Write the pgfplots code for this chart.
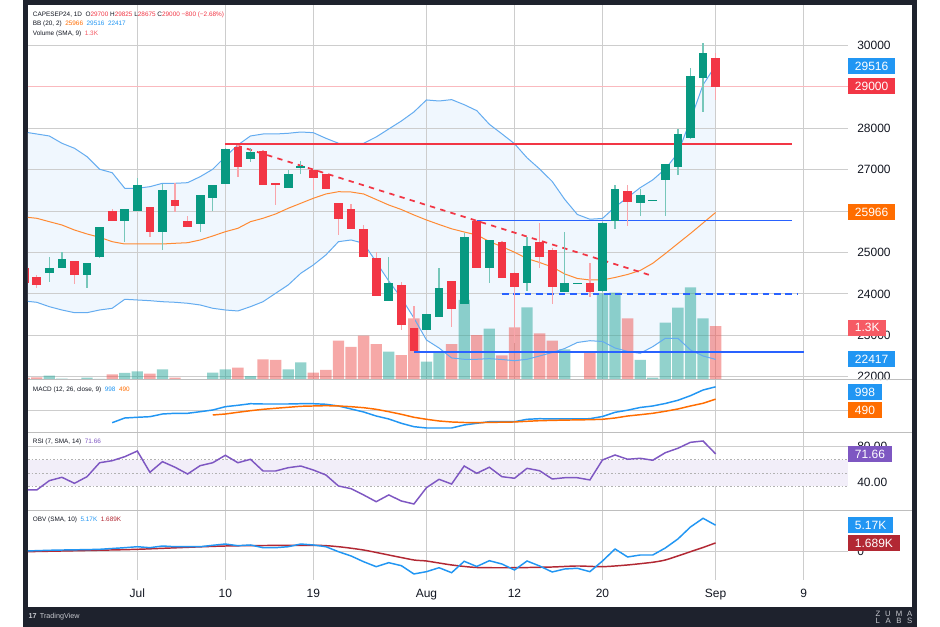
\documentclass[border=0pt]{standalone}
\usepackage{pgfplots}
\pgfplotsset{compat=1.18}
\usepackage{pgfplotstable}
\usepackage{fontspec}
\setmainfont{Liberation Sans}

\definecolor{upc}{RGB}{8,153,129}
\definecolor{dnc}{RGB}{242,54,69}
\definecolor{bbblue}{RGB}{33,150,243}
\definecolor{bbline}{RGB}{100,172,240}
\definecolor{tvblue}{RGB}{41,98,255}
\definecolor{tvorange}{RGB}{255,109,0}
\definecolor{rsipurple}{RGB}{126,87,194}
\definecolor{rsifill}{RGB}{242,238,249}
\definecolor{obvred}{RGB}{178,40,51}
\definecolor{gridc}{RGB}{205,205,205}
\definecolor{sepc}{RGB}{190,190,190}
\definecolor{framec}{RGB}{30,34,45}
\definecolor{bbfill}{RGB}{240,247,254}
\definecolor{volup}{RGB}{38,166,154}
\definecolor{voldn}{RGB}{239,83,80}
\definecolor{vollab}{RGB}{246,90,100}
\definecolor{txt}{RGB}{19,23,34}
\definecolor{logoc}{RGB}{200,202,208}

% candles: i open high low close
\pgfplotstableread{
i o h l c
-7 24498 24884 24295 24633
-6 24633 25020 24633 24836
-4 24450 24754 24135 24754
-3 24884 25620 24870 25608
-1 25761 26060 25261 26050
0 26002 26792 26002 26630
2 25502 26655 25060 26510
5 25681 26381 25502 26381
6 26308 26640 26002 26630
7 26647 27520 26647 27500
9 27258 27517 27193 27427
12 26551 26993 26551 26889
13 27034 27210 26889 27089
20 23836 24884 23836 24256
23 23128 23520 23128 23507
24 23450 24618 23450 24135
26 23756 25463 23756 25382
28 24618 25310 24256 25302
31 24256 25382 24078 25157
34 24039 25487 24039 24256
35 24245 24270 24245 24270
37 24078 25740 24050 25720
38 25769 26630 25558 26526
40 26203 26542 25882 26381
41 26250 26275 26250 26275
42 26751 27140 25890 27130
43 27058 27976 26872 27855
44 27758 29449 27740 29263
45 29208 30068 28386 29812
}\cUp

\pgfplotstableread{
i o h l c
-9 24618 24700 24250 24269
-8 24416 24456 24135 24215
-5 24802 24802 24232 24450
-2 26002 26050 25761 25761
1 26107 26107 25382 25502
3 26260 26671 25986 26123
4 25761 25882 25624 25624
8 27556 27597 26831 27058
10 27459 27470 26638 26638
11 26687 26687 26147 26638
14 26993 26993 26510 26807
15 26889 26889 26526 26526
16 26203 26203 25423 25801
17 26050 26171 25558 25558
18 25558 25664 24884 24884
19 24860 25020 23949 23949
21 24208 24295 23128 23249
22 23184 23708 22628 22628
25 24312 24312 23208 23628
27 25769 25790 24618 24618
29 25261 25280 24376 24376
30 24513 24520 22806 24159
32 25246 25705 24618 24900
33 25060 25100 23756 24159
36 24256 24755 23933 24039
39 26494 26630 25640 26228
46 29700 29825 28675 29000
}\cDn

% volume in K
\pgfplotstableread{
i v
-7 0.104
-6 0.03
-4 0.055
-3 0.024
-1 0.169
0 0.209
2 0.257
5 0.016
6 0.177
7 0.257
9 0.096
12 0.257
13 0.426
20 0.682
23 0.441
24 0.658
26 1.928
28 1.236
31 1.751
34 0.739
35 0.012
37 2.089
38 2.104
40 0.482
41 0.056
42 1.381
43 1.742
44 2.234
45 1.486
}\volUp

\pgfplotstableread{
i v
-9 0.05
-8 0.065
-5 0.017
-2 0.137
1 0.152
3 0.056
4 0.016
8 0.297
10 0.498
11 0.482
14 0.177
15 0.241
16 0.947
17 0.795
18 1.068
19 0.867
21 0.602
22 1.486
25 0.867
27 1.084
29 0.594
30 1.27
32 1.125
33 0.948
36 0.682
39 1.486
46 1.3
}\volDn

% Bollinger bands (20,2)
\pgfplotstableread{
i up mid lo
-9 27910 25857 23828
-8 27862 25826 23797
-7 27814 25744 23691
-6 27638 25664 23611
-5 27517 25543 23546
-4 27314 25447 23546
-3 27010 25367 23611
-2 26927 25261 23652
-1 26551 25205 23869
0 26551 25205 23853
1 26589 25205 23836
2 26671 25205 23811
3 26671 25222 23797
4 26686 25236 23773
5 26831 25302 23732
6 27010 25398 23652
7 27314 25502 23611
8 27597 25584 23587
9 27814 25744 23691
10 27862 25826 23811
11 27862 25930 24014
12 27879 26067 24215
13 27910 26188 24497
14 27894 26309 24698
15 27758 26413 24940
16 27638 26468 25261
17 27638 26461 25302
18 27638 26413 25222
19 27790 26280 24770
20 27983 26147 24311
21 28175 26038 23901
22 28394 25906 23418
23 28684 25785 22886
24 28659 25676 22693
25 28692 25572 22452
26 28570 25495 22420
27 28426 25423 22420
28 28097 25266 22435
29 27865 25140 22415
30 27628 25007 22386
31 27286 24853 22420
32 27016 24758 22500
33 26716 24650 22584
34 26281 24481 22681
35 25918 24372 22826
36 25803 24336 22869
37 25822 24336 22850
38 26099 24396 22693
39 26329 24469 22609
40 26565 24565 22565
41 26753 24739 22725
42 27019 24973 22927
43 27400 25217 22927
44 28200 25459 22645
45 29050 25712 22500
46 29516 25966 22417
}\bb

\pgfplotstableread{
i m
-2 -483
-1 -289
0 -260
1 -235
2 -124
3 -95
4 -95
5 -29
6 41
7 178
8 235
9 301
10 289
11 289
12 289
13 301
14 301
15 277
16 207
17 83
18 -41
19 -207
20 -330
21 -508
22 -648
23 -702
24 -702
25 -702
26 -578
27 -508
28 -442
29 -442
30 -442
31 -343
32 -318
33 -330
34 -330
35 -330
36 -318
37 -227
38 -54
39 33
40 145
41 207
42 310
43 442
44 632
45 867
46 998
}\macd

\pgfplotstableread{
i s
6 -165
7 -124
8 -54
9 12
10 70
11 112
12 153
13 194
14 207
15 219
16 207
17 178
18 136
19 70
20 -29
21 -136
22 -260
23 -343
24 -413
25 -454
26 -475
27 -483
28 -471
29 -463
30 -454
31 -425
32 -401
33 -388
34 -376
35 -368
36 -359
37 -343
38 -289
39 -207
40 -153
41 -95
42 -12
43 83
44 207
45 318
46 490
}\macdsig

\pgfplotstableread{
i r
-9 31.0
-8 31.0
-7 41.5
-6 45.3
-5 38.5
-4 46.0
-3 61.7
-2 64.0
-1 68.5
0 74.9
1 50.9
2 62.9
3 56.6
4 49.0
5 58.4
6 61.7
7 70.1
8 61.7
9 65.6
10 52.4
11 52.4
12 56.1
13 58.0
14 53.5
15 47.9
16 35.5
17 32.5
18 25.4
19 17.8
20 25.4
21 18.6
22 15.2
23 33.6
24 43.0
25 37.7
26 58.0
27 49.8
28 56.6
29 46.0
30 44.2
31 55.4
32 52.7
33 43.4
34 44.8
35 44.8
36 42.3
37 64.8
38 70.4
39 65.6
40 66.7
41 64.5
42 73.0
43 78.0
44 84.7
45 86.2
46 71.66
}\rsi

\pgfplotstableread{
i o
-9 0.10
-8 0.16
-7 0.24
-6 0.29
-5 0.33
-4 0.37
-3 0.43
-2 0.59
-1 0.75
0 0.94
1 0.75
2 1.08
3 0.94
4 0.94
5 0.94
6 1.22
7 1.47
8 1.14
9 1.28
10 0.75
11 0.75
12 0.94
13 1.47
14 1.28
15 0.94
16 -0.04
17 -0.88
18 -2.01
19 -2.99
20 -2.20
21 -2.79
22 -4.42
23 -3.97
24 -3.19
25 -4.17
26 -1.93
27 -2.95
28 -1.81
29 -2.46
30 -3.64
31 -1.87
32 -2.85
33 -4.03
34 -3.44
35 -3.30
36 -3.97
37 -1.87
38 0.49
39 -1.08
40 -0.69
41 -0.69
42 0.69
43 2.46
44 4.82
45 6.53
46 5.17
}\obv

\pgfplotstableread{
i s
-9 -0.04
-8 0.0
-4 0.20
0 0.43
7 1.08
14 1.22
16 0.94
18 0.29
20 -0.69
22 -1.67
23 -1.87
25 -2.65
27 -3.15
30 -3.19
33 -3.05
35 -2.85
37 -2.99
39 -2.65
41 -2.12
42 -1.67
43 -0.88
44 -0.04
45 0.79
46 1.689
}\obvsma

\pgfplotsset{
  pane/.style={
    scale only axis, anchor=south west, width=615pt,
    xmin=-8.696, xmax=56.53,
    axis line style={draw=none},
    major tick length=0pt,
    xtick={0,7,14,23,30,37,46,53},
    xticklabels={},
    xmajorgrids, ymajorgrids,
    grid style={draw=gridc, line width=0.75pt},
    ytick pos=right, yticklabel pos=right,
    yticklabel style={anchor=west, inner sep=0pt, xshift=6.75pt,
      font=\fontsize{9}{10}\selectfont, text=txt},
    /pgf/number format/assume math mode=true,
    /pgf/number format/1000 sep={},
  },
  ovl/.style={
    scale only axis, anchor=south west, width=615pt,
    xmin=-8.696, xmax=56.53, hide axis,
  },
  candle/.style={draw=none, mark=none,
    error bars/.cd, y dir=both, y explicit, error mark=none},
}
\tikzset{
  lab/.style={anchor=west, inner xsep=5pt, inner ysep=0pt,
    minimum height=12pt, text=white, font=\fontsize{9}{10}\selectfont},
  hdr/.style={anchor=base west, inner sep=0pt, text=txt,
    font=\fontsize{4.8}{5}\selectfont},
}

\begin{document}
\begin{tikzpicture}
\fill[white] (0,0) rectangle (705pt,470.25pt);
\fill[framec] (17.25pt,0) rectangle (687.75pt,470.25pt);
\fill[white] (21pt,15pt) rectangle (684pt,466.5pt);

% ---- price pane: band fill with grid on top
\begin{axis}[pane, at={(21pt,185.25pt)}, height=281.25pt,
  ymin=21920, ymax=30978, ytick={22000,23000,...,30000},
  yticklabels={22000,23000,24000,25000,{},27000,28000,{},30000},
  scaled y ticks=false, stack plots=y, axis on top]
  \addplot[draw=none, fill=none] table[x=i,y=lo]{\bb} \closedcycle;
  \addplot[draw=none, fill=bbfill] table[x=i, y expr={\thisrow{up}-\thisrow{lo}}]{\bb} \closedcycle;
\end{axis}

% ---- volume overlay
\begin{axis}[ovl, at={(21pt,185.25pt)}, height=281.25pt, ymin=0, ymax=9.036]
  \addplot[ybar, bar shift=0pt, bar width=0.9, fill=volup, fill opacity=0.5, draw=none]
    table[x=i,y=v]{\volUp};
  \addplot[ybar, bar shift=0pt, bar width=0.9, fill=voldn, fill opacity=0.5, draw=none]
    table[x=i,y=v]{\volDn};
\end{axis}

% ---- price overlay: bands, lines, candles
\begin{axis}[ovl, at={(21pt,185.25pt)}, height=281.25pt, ymin=21920, ymax=30978]
  \addplot[bbline, line width=0.75pt] table[x=i,y=up]{\bb};
  \addplot[bbline, line width=0.75pt] table[x=i,y=lo]{\bb};
  \addplot[tvorange!80, line width=0.75pt] table[x=i,y=mid]{\bb};
  \addplot[dnc!35, line width=0.6pt] coordinates {(-8.7,29000) (56.53,29000)};
  \addplot[dnc, line width=1.3pt] coordinates {(7,27620) (52.06,27620)};
  \addplot[tvblue, line width=1.3pt] coordinates {(27,25775) (52.06,25775)};
  \addplot[tvblue, line width=1.3pt, dash pattern=on 5pt off 3.5pt] coordinates {(29,23997) (52.5,23997)};
  \addplot[tvblue, line width=1.3pt] coordinates {(22,22604) (53,22604)};
  \addplot[dnc, line width=1.3pt, dash pattern=on 4pt off 4pt] coordinates {(7.9,27584) (41,24432)};
  % wicks
  \addplot[candle, error bar style={draw=upc!55!white, line width=1pt, solid}]
    table[x=i, y expr={(\thisrow{h}+\thisrow{l})/2}, y error expr={(\thisrow{h}-\thisrow{l})/2}]{\cUp};
  \addplot[candle, error bar style={draw=dnc!45!white, line width=1pt, solid}]
    table[x=i, y expr={(\thisrow{h}+\thisrow{l})/2}, y error expr={(\thisrow{h}-\thisrow{l})/2}]{\cDn};
  % bodies
  \addplot[candle, error bar style={draw=upc, line width=6.5pt, solid}]
    table[x=i, y expr={(\thisrow{o}+\thisrow{c})/2}, y error expr={abs(\thisrow{c}-\thisrow{o})/2}]{\cUp};
  \addplot[candle, error bar style={draw=dnc, line width=6.5pt, solid}]
    table[x=i, y expr={(\thisrow{o}+\thisrow{c})/2}, y error expr={abs(\thisrow{c}-\thisrow{o})/2}]{\cDn};
\end{axis}

% ---- MACD pane
\begin{axis}[pane, at={(21pt,145.5pt)}, height=39.75pt,
  ymin=-908.6, ymax=1280.3, ytick={0}, yticklabels={}]
  \addplot[bbblue, line width=1.1pt] table[x=i,y=m]{\macd};
  \addplot[tvorange, line width=1.1pt] table[x=i,y=s]{\macdsig};
\end{axis}

% ---- RSI pane
\begin{axis}[pane, at={(21pt,87pt)}, height=58.5pt,
  ymin=7.32, ymax=95.21, ytick={40,80},
  /pgf/number format/fixed, /pgf/number format/fixed zerofill,
  /pgf/number format/precision=2]
  \addplot[fill=rsifill, draw=none] coordinates {(-8.7,35) (56.53,35) (56.53,65) (-8.7,65)} -- cycle;
  \addplot[gray!60, line width=0.6pt, dash pattern=on 1.2pt off 1.5pt] coordinates {(-8.7,65) (56.53,65)};
  \addplot[gray!60, line width=0.6pt, dash pattern=on 1.2pt off 1.5pt] coordinates {(-8.7,50) (56.53,50)};
  \addplot[gray!60, line width=0.6pt, dash pattern=on 1.2pt off 1.5pt] coordinates {(-8.7,35) (56.53,35)};
  \addplot[rsipurple, line width=1.1pt] table[x=i,y=r]{\rsi};
\end{axis}

% ---- OBV pane
\begin{axis}[pane, at={(21pt,35.25pt)}, height=51.75pt,
  ymin=-5.605, ymax=7.965, ytick={0},
  xticklabels={Jul,10,19,Aug,12,20,Sep,9},
  xticklabel style={anchor=base, inner sep=0pt, yshift=-13.25pt,
    font=\fontsize{9}{10}\selectfont, text=txt}]
  \addplot[obvred, line width=1.1pt, smooth, tension=0.4] table[x=i,y=s]{\obvsma};
  \addplot[bbblue, line width=1.1pt] table[x=i,y=o]{\obv};
\end{axis}

% pane separators
\draw[sepc, line width=0.75pt] (21pt,185.25pt) -- (684pt,185.25pt);
\draw[sepc, line width=0.75pt] (21pt,145.5pt) -- (684pt,145.5pt);
\draw[sepc, line width=0.75pt] (21pt,87pt) -- (684pt,87pt);

% value labels on the scale
\node[lab, fill=bbblue] at (636pt,420.5pt) {29516};
\node[lab, fill=dnc] at (636pt,405.5pt) {29000};
\node[lab, fill=tvorange] at (636pt,310.9pt) {25966};
\node[lab, fill=vollab] at (636pt,224.6pt) {1.3K};
\node[lab, fill=bbblue] at (636pt,201pt) {22417};
\node[lab, fill=bbblue] at (636pt,176.25pt) {998};
\node[lab, fill=tvorange] at (636pt,162.75pt) {490};
\node[lab, fill=rsipurple] at (636pt,129.75pt) {71.66};
\node[lab, fill=bbblue] at (636pt,76.5pt) {5.17K};
\node[lab, fill=obvred] at (636pt,63pt) {1.689K};

% headers
\node[hdr] at (24.5pt,457.5pt) {CAPESEP24, 1D\ \ O\textcolor{dnc}{29700}\ H\textcolor{dnc}{29825}\ L\textcolor{dnc}{28675}\ C\textcolor{dnc}{29000}\ \textcolor{dnc}{−800 (−2.68\%)}};
\node[hdr] at (24.5pt,450.75pt) {BB (20, 2)\ \ \textcolor{tvorange}{25966}\ \ \textcolor{bbblue}{29516}\ \ \textcolor{bbblue}{22417}};
\node[hdr] at (24.5pt,443.8pt) {Volume (SMA, 9)\ \ \textcolor{vollab}{1.3K}};
\node[hdr] at (24.5pt,176.25pt) {MACD (12, 26, close, 9)\ \ \textcolor{bbblue}{998}\ \ \textcolor{tvorange}{490}};
\node[hdr] at (24.5pt,137.5pt) {RSI (7, SMA, 14)\ \ \textcolor{rsipurple}{71.66}};
\node[hdr] at (24.5pt,78.75pt) {OBV (SMA, 10)\ \ \textcolor{bbblue}{5.17K}\ \ \textcolor{obvred}{1.689K}};

% footer
\node[anchor=west, inner sep=0pt, text=logoc, font=\fontsize{5.4}{6}\selectfont] at (21.2pt,7.75pt) {\textbf{17}\hspace{2.5pt}TradingView};
\node[anchor=west, inner sep=0pt, text=logoc, font=\fontsize{5.8}{6}\selectfont] at (656.5pt,10.1pt) {\makebox[27.5pt][s]{Z\hfill U\hfill M\hfill A}};
\node[anchor=west, inner sep=0pt, text=logoc, font=\fontsize{5.8}{6}\selectfont] at (656.5pt,4.9pt) {\makebox[27.5pt][s]{L\hfill A\hfill B\hfill S}};
\end{tikzpicture}
\end{document}
